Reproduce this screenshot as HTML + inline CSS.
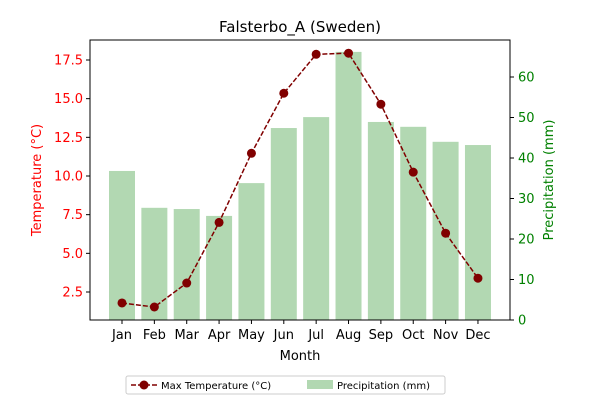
<!DOCTYPE html>
<html><head><meta charset="utf-8"><style>
body{margin:0;background:#fff;font-family:"Liberation Sans","DejaVu Sans",sans-serif}
</style></head><body>
<svg width="600" height="400" xmlns="http://www.w3.org/2000/svg" font-family="DejaVu Sans, Liberation Sans, sans-serif">
<g id="bars"></g>
<g id="line"></g>
<rect x="90" y="40" width="420" height="280" fill="none" stroke="#000" stroke-width="1"/>
<g id="xticks"></g>
<g id="lticks"></g>
<g id="rticks"></g>
<text x="300" y="32" text-anchor="middle" font-size="15">Falsterbo_A (Sweden)</text>
<text x="300" y="360" text-anchor="middle" font-size="13">Month</text>
<text transform="translate(41,180) rotate(-90)" text-anchor="middle" font-size="13" fill="red">Temperature (°C)</text>
<text transform="translate(553,180) rotate(-90)" text-anchor="middle" font-size="13" fill="green">Precipitation (mm)</text>
<g>
<rect x="126" y="376" width="319" height="18" fill="#fff" stroke="#ccc" rx="2"/>
<line x1="131" y1="385" x2="157" y2="385" stroke="#800000" stroke-width="1.5" stroke-dasharray="5,2"/>
<circle cx="144" cy="385" r="4.5" fill="#800000"/>
<text x="161" y="389" font-size="10">Max Temperature (°C)</text>
<rect x="307" y="380" width="26" height="9" fill="#b2d8b2"/>
<text x="337" y="389" font-size="10">Precipitation (mm)</text>
</g>
</svg>
<script>
const months=["Jan","Feb","Mar","Apr","May","Jun","Jul","Aug","Sep","Oct","Nov","Dec"];
const temps=[1.79,1.53,3.08,7.0,11.47,15.35,17.87,17.94,14.64,10.25,6.3,3.39];
const precip=[36.8,27.7,27.4,25.7,33.8,47.4,50.1,66.2,48.9,47.7,44.0,43.2];
const tTicks=[2.5,5.0,7.5,10.0,12.5,15.0,17.5];
const pTicks=[0,10,20,30,40,50,60];
const NS="http://www.w3.org/2000/svg";
const x=i=>122+i*32.36;
const yT=v=>292-(v-2.5)*15.467;
const yP=v=>320-v*4.05;
function mk(t,a,p){const e=document.createElementNS(NS,t);for(const k in a)e.setAttribute(k,a[k]);p.appendChild(e);return e;}
const bars=document.getElementById('bars');
precip.forEach((v,i)=>{const r=mk('rect',{x:x(i)-13,y:yP(v),width:26,height:320-yP(v),fill:'#b2d8b2'},bars);

});
const line=document.getElementById('line');
const pl=mk('polyline',{points:temps.map((v,i)=>x(i)+','+yT(v)).join(' '),fill:'none',stroke:'#800000','stroke-width':1.5,'stroke-dasharray':'5,2'},line);


temps.forEach((v,i)=>{const c=mk('circle',{cx:x(i),cy:yT(v),r:4.5,fill:'#800000'},line);

});
const xt=document.getElementById('xticks');
months.forEach((m,i)=>{mk('line',{x1:x(i),x2:x(i),y1:320,y2:324,stroke:'#000'},xt);
const t=mk('text',{x:x(i),y:339,'text-anchor':'middle','font-size':13},xt);t.textContent=m;

});
const lt=document.getElementById('lticks');
tTicks.forEach(v=>{mk('line',{x1:86,x2:90,y1:yT(v),y2:yT(v),stroke:'#000'},lt);
const t=mk('text',{x:83,y:yT(v)+4.5,'text-anchor':'end','font-size':13,fill:'red'},lt);t.textContent=v.toFixed(1);

});
const rt=document.getElementById('rticks');
pTicks.forEach(v=>{mk('line',{x1:510,x2:514,y1:yP(v),y2:yP(v),stroke:'#000'},rt);
const t=mk('text',{x:518,y:yP(v)+4.5,'font-size':13,fill:'green'},rt);t.textContent=v;

});
</script>
</body></html>
